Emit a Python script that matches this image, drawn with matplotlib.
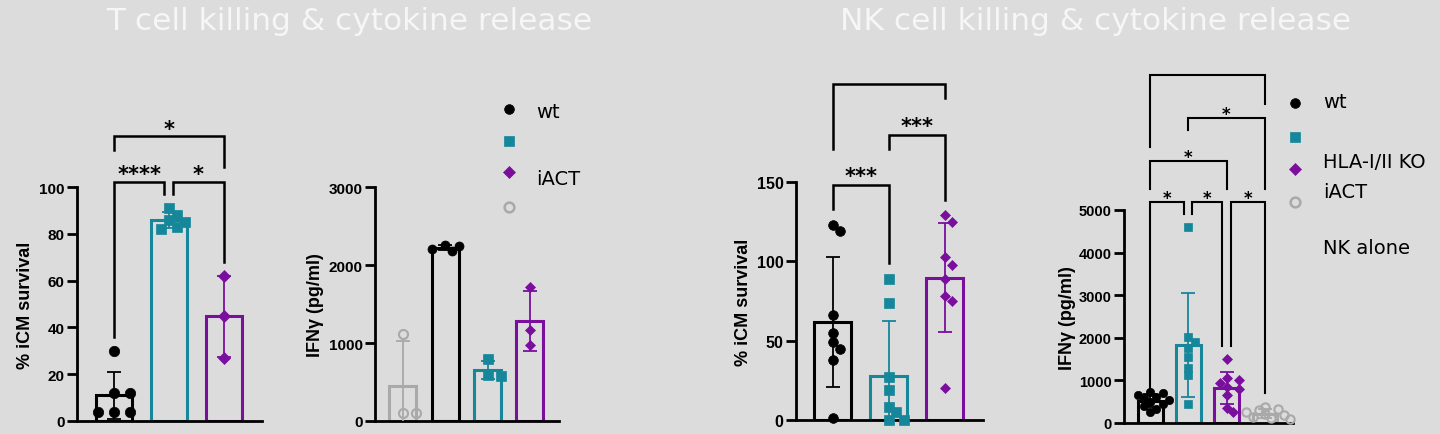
import numpy as np
import matplotlib.pyplot as plt

# colours
BG = "#dcdcdc"
BLACK = "#000000"
TEAL = "#16879a"
PURPLE = "#7a0f9e"
GREY = "#a9a9a9"

# T cell killing (% iCM survival)
t_kill_wt = [30, 12, 12, 4, 4, 4]
t_kill_ko = [91, 82, 85, 88, 83, 86]
t_kill_iact = [62, 45, 27]

# T cell IFNg (pg/ml)
t_ifn_alone = [1120, 107, 107]
t_ifn_wt = [2180, 2256, 2244, 2210]
t_ifn_ko = [790, 590, 580]
t_ifn_iact = [1718, 1167, 974]

# NK cell killing (% iCM survival)
nk_kill_wt = [123, 119, 66, 55, 45, 49, 38, 1]
nk_kill_ko = [89, 74, 27, 19, 8, 5, 0, 0]
nk_kill_iact = [125, 129, 98, 103, 89, 78, 75, 20]

# NK cell IFNg (pg/ml)
nk_ifn_wt = [720, 700, 660, 620, 580, 540, 500, 450, 400, 340, 250]
nk_ifn_ko = [4600, 1900, 2030, 1750, 1550, 1300, 1120, 450]
nk_ifn_iact = [1500, 1050, 1000, 950, 850, 800, 650, 350, 250]
nk_ifn_alone = [380, 320, 300, 250, 200, 180, 150, 120, 100]

legend_t = ["wt", "", "iACT", ""]
legend_nk = ["wt", "HLA-I/II KO", "iACT", "NK alone"]

W, H = 1440, 435
fig = plt.figure(figsize=(W / 100, H / 100), dpi=100, facecolor=BG)


def px_axes(l, r, t, b):
    ax = fig.add_axes([l / W, 1 - b / H, (r - l) / W, (b - t) / H])
    ax.set_facecolor("none")
    return ax


def swarm(vals, y_px, x_px, diam):
    # spread points with similar values sideways (pixel space)
    placed = []
    xs = np.zeros(len(vals))
    cands = [0]
    for k in range(1, 12):
        cands += [k * diam * 0.75, -k * diam * 0.75]
    for i in np.argsort(vals)[::-1]:
        y = vals[i] * y_px
        for x in cands:
            if all((x - a) ** 2 + (y - b) ** 2 >= (diam * 0.85) ** 2 for a, b in placed):
                break
        placed.append((x, y))
        xs[i] = x / x_px
    return xs


def panel(ax, groups, styles, ymax, step, width, ax_px, lab_size, ms):
    l, r, t, b = ax_px
    y_px = (b - t) / ymax
    ax.set_ylim(0, ymax)
    for i, (vals, (col, mk, filled)) in enumerate(zip(groups, styles)):
        vals = np.array(vals, float)
        m, sd = vals.mean(), vals.std(ddof=1)
        ax.bar(i, m, width=width, facecolor="none", edgecolor=col, lw=2.2, zorder=2)
        ax.errorbar(i, m, yerr=sd, color=col, lw=1.3, capsize=5, capthick=1.3, zorder=3)
        x_px_unit = ax.transData.transform((1, 0))[0] - ax.transData.transform((0, 0))[0]
        xs = swarm(vals, y_px, x_px_unit, ms / 0.72)
        ax.plot(i + xs, vals, ls="none", marker=mk, ms=ms if mk != "D" else ms * 0.8,
                mfc=col if filled else "none", mec=col, mew=1.5 if not filled else 0.5,
                zorder=4, clip_on=False)
    ax.set_yticks(np.arange(0, ymax + 1, step))
    ax.set_xticks([])
    for s in ["top", "right"]:
        ax.spines[s].set_visible(False)
    for s in ["left", "bottom"]:
        ax.spines[s].set_linewidth(2)
    ax.tick_params(axis="y", length=7, width=2, labelsize=lab_size, pad=2)
    for lb in ax.get_yticklabels():
        lb.set_fontweight("bold")
        lb.set_family("Liberation Sans")


def bracket(ax, x1, x2, y, e1, e2, label, lw=1.8, fs=15, off=1):
    ax.plot([x1, x1, x2, x2], [e1, y, y, e2], color="black", lw=lw, clip_on=False,
            solid_joinstyle="miter", zorder=5)
    if label:
        ax.annotate(label, ((x1 + x2) / 2, y), xytext=(0, off), textcoords="offset points",
                    ha="center", va="baseline", fontsize=fs, fontweight="bold",
                    family="DejaVu Sans", annotation_clip=False)


st_wt = (BLACK, "o", True)
st_ko = (TEAL, "s", True)
st_iact = (PURPLE, "D", True)
st_alone = (GREY, "o", False)

# panel 1
p1 = (77, 262, 188, 422)
ax1 = px_axes(*p1)
ax1.set_xlim(-0.673, 2.69)
panel(ax1, [t_kill_wt, t_kill_ko, t_kill_iact], [st_wt, st_ko, st_iact], 100, 20, 0.64, p1, 11, 7.5)
bracket(ax1, 0, 0.91, 102.3, 36, 97, "****")
bracket(ax1, 1.07, 2, 102.3, 97, 68, "*")
bracket(ax1, 0, 2, 121.8, 116, 108.5, "*")

# panel 2
p2 = (375, 559, 188, 422)
ax2 = px_axes(*p2)
ax2.set_xlim(-0.66, 3.69)
panel(ax2, [t_ifn_alone, t_ifn_wt, t_ifn_ko, t_ifn_iact], [st_alone, st_wt, st_ko, st_iact],
      3000, 1000, 0.64, p2, 11, 6.5)

# panel 3
p3 = (796, 983, 183, 421)
ax3 = px_axes(*p3)
ax3.set_xlim(-0.66, 2.68)
panel(ax3, [nk_kill_wt, nk_kill_ko, nk_kill_iact], [st_wt, st_ko, st_iact], 150, 50, 0.66, p3, 11.5, 7)
bracket(ax3, 0, 1, 147.9, 132.7, 99, "***", off=2.5)
bracket(ax3, 1, 2, 179.5, 170.6, 138.4, "***", off=2.5)
bracket(ax3, 0, 2, 212, 171, 203, "")

# panel 4
p4 = (1124, 1293, 211, 424)
ax4 = px_axes(*p4)
ax4.set_xlim(-0.68, 3.73)
panel(ax4, [nk_ifn_wt, nk_ifn_ko, nk_ifn_iact, nk_ifn_alone], [st_wt, st_ko, st_iact, st_alone],
      5000, 1000, 0.65, p4, 10.5, 6)
kw = dict(lw=1.5, fs=12, off=-1)
bracket(ax4, 0, 0.89, 5187, 719, 4898, "*", **kw)
bracket(ax4, 1.09, 1.89, 5187, 4898, 1812, "*", **kw)
bracket(ax4, 2.10, 3, 5187, 1812, 695, "*", **kw)
bracket(ax4, 0, 2, 6148, 5500, 5500, "*", **kw)
bracket(ax4, 0.98, 3, 7164, 6867, 5500, "*", **kw)
bracket(ax4, 0, 3, 8180, 6484, 7477, "", **kw)

# y labels
lab = dict(rotation=90, ha="center", va="center", fontsize=13, fontweight="bold",
           family="Liberation Sans")
fig.text(26 / W, 1 - 305 / H, "% iCM survival", **lab)
fig.text(316 / W, 1 - 305 / H, "IFNγ (pg/ml)", **lab)
fig.text(743 / W, 1 - 302 / H, "% iCM survival", **lab)
fig.text(1067 / W, 1 - 318 / H, "IFNγ (pg/ml)", **lab)

# titles
tt = dict(ha="center", va="center", fontsize=22.5, color="#f6f6f6", family="DejaVu Sans")
fig.text(349 / W, 1 - 21 / H, "T cell killing & cytokine release", **tt)
fig.text(1096 / W, 1 - 21 / H, "NK cell killing & cytokine release", **tt)

# legends (overlay in pixel space)
ov = fig.add_axes([0, 0, 1, 1])
ov.set_xlim(0, W)
ov.set_ylim(H, 0)
ov.axis("off")
leg_styles = [st_wt, st_ko, st_iact, st_alone]
for (col, mk, filled), yy in zip(leg_styles, [110, 142, 173, 208]):
    ov.plot(509, yy, marker=mk, ms=7 if mk != "D" else 6, mfc=col if filled else "none",
            mec=col, mew=1.8 if not filled else 0.5, ls="none")
for (col, mk, filled), yy in zip(leg_styles, [104, 138, 170, 203]):
    ov.plot(1295, yy, marker=mk, ms=7 if mk != "D" else 6, mfc=col if filled else "none",
            mec=col, mew=1.8 if not filled else 0.5, ls="none")
lt = dict(ha="left", va="center", fontsize=14, family="DejaVu Sans")
for txt, yy in zip(legend_t, [113, 145, 180, 210]):
    if txt:
        ov.text(536, yy, txt, **lt)
for txt, yy in zip(legend_nk, [103, 163, 193, 249]):
    ov.text(1323, yy, txt, **lt)

fig.savefig("out.png", dpi=100, facecolor=BG)
